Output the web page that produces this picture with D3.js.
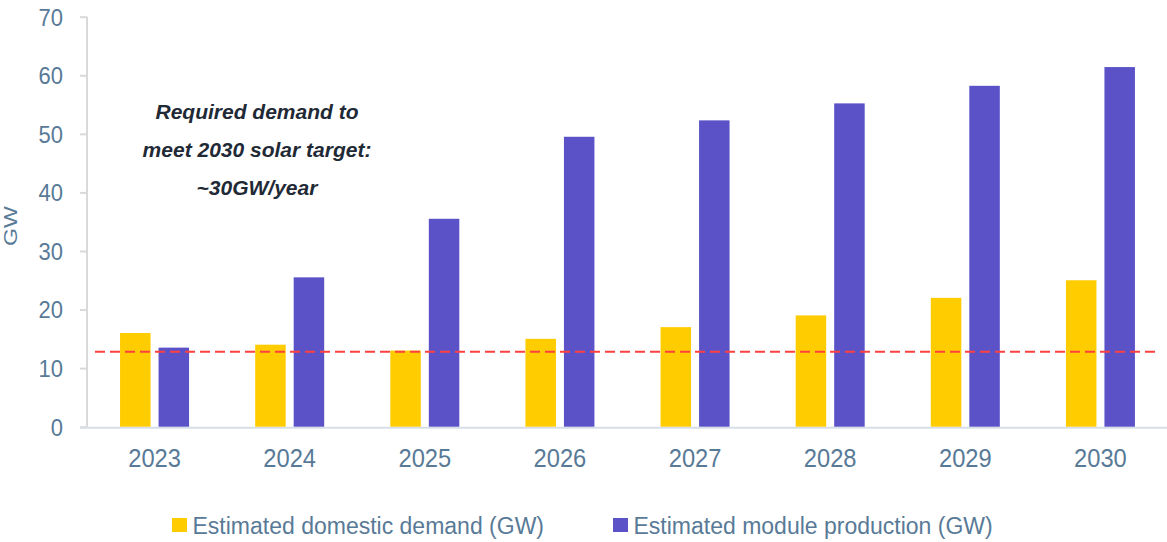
<!DOCTYPE html>
<html><head><meta charset="utf-8">
<script src="https://cdn.jsdelivr.net/npm/d3@7"></script>
<style>body{margin:0;background:#fff;} text{font-family:"Liberation Sans",Arial,sans-serif;}</style>
</head><body>
<svg id="c" width="1167" height="542"></svg>
<script>
const years = ["2023","2024","2025","2026","2027","2028","2029","2030"];
const demand = [16, 14, 13, 15, 17, 19, 22, 25];
const production = [13.5, 25.5, 35.5, 49.5, 52.3, 55.2, 58.2, 61.4];
const yTicks = [0,10,20,30,40,50,60,70];
const targetLine = 12.8;
const seriesNames = ["Estimated domestic demand (GW)", "Estimated module production (GW)"];
const annotation = ["Required demand to", "meet 2030 solar target:", "~30GW/year"];

const svg = d3.select("#c");
const textColor = "#587a97";
const yellow = "#ffcc00", purple = "#5b52c8";
const x = d3.scaleBand().domain(years).range([87, 1168]).paddingInner(0).paddingOuter(0);
const y = d3.scaleLinear().domain([0,70]).range([426.7, 16.7]);

// y axis
const ya = svg.append("g").attr("transform","translate(87,0)")
  .call(d3.axisLeft(y).tickValues(yTicks).tickSize(7).tickPadding(17));
ya.select(".domain").attr("stroke","#d9d9d9").attr("stroke-width",2).attr("d","M0,16.7V426.7");
ya.selectAll(".tick line").attr("stroke","#d9d9d9").attr("stroke-width",2);
ya.selectAll(".tick text").attr("fill",textColor).style("font-size","22px")
  .attr("dy","0.34em").attr("transform","scale(1,1.12)");

// x axis
svg.append("line").attr("x1",80).attr("x2",1167).attr("y1",y(0)+1).attr("y2",y(0)+1)
  .attr("stroke","#d6dfe8").attr("stroke-width",2);
svg.append("g").selectAll("text").data(years).join("text")
  .attr("transform", d => `translate(${x(d)+x.bandwidth()/2},467) scale(1,1.07)`)
  .attr("text-anchor","middle").attr("fill",textColor).style("font-size","23.7px").text(d=>d);

// bars
const bw = 30.5, gap = 8;
svg.append("g").selectAll("rect").data(years).join("rect")
  .attr("x", d => x(d)+x.bandwidth()/2 - gap/2 - bw)
  .attr("y", (d,i) => y(demand[i])).attr("width", bw)
  .attr("height", (d,i) => y(0)-y(demand[i])).attr("fill", yellow);
svg.append("g").selectAll("rect").data(years).join("rect")
  .attr("x", d => x(d)+x.bandwidth()/2 + gap/2)
  .attr("y", (d,i) => y(production[i])).attr("width", bw)
  .attr("height", (d,i) => y(0)-y(production[i])).attr("fill", purple);

// dashed target line
svg.append("line").attr("x1",95).attr("x2",1160).attr("y1",y(targetLine)).attr("y2",y(targetLine))
  .attr("stroke","#ff4040").attr("stroke-width",2).attr("stroke-dasharray","10,5");

// y label
svg.append("text").attr("transform","translate(17,226) rotate(-90) scale(1.22,1)").attr("text-anchor","middle")
  .attr("fill",textColor).style("font-size","19px").text("GW");

// annotation
svg.append("g").selectAll("text").data(annotation).join("text")
  .attr("x",257).attr("y",(d,i)=>119+i*38).attr("text-anchor","middle")
  .attr("fill","#1f2a36").style("font-size","21px").style("font-weight","bold").style("font-style","italic")
  .text(d=>d);

// legend
const leg = [{x:172, c:yellow, t:seriesNames[0]},{x:613, c:purple, t:seriesNames[1]}];
const lg = svg.append("g");
lg.selectAll("rect").data(leg).join("rect").attr("x",d=>d.x).attr("y",518).attr("width",15).attr("height",14).attr("fill",d=>d.c);
lg.selectAll("text").data(leg).join("text").attr("x",d=>d.x+20.5).attr("y",534)
  .attr("fill",textColor).style("font-size","23px").text(d=>d.t);
</script>
</body></html>
